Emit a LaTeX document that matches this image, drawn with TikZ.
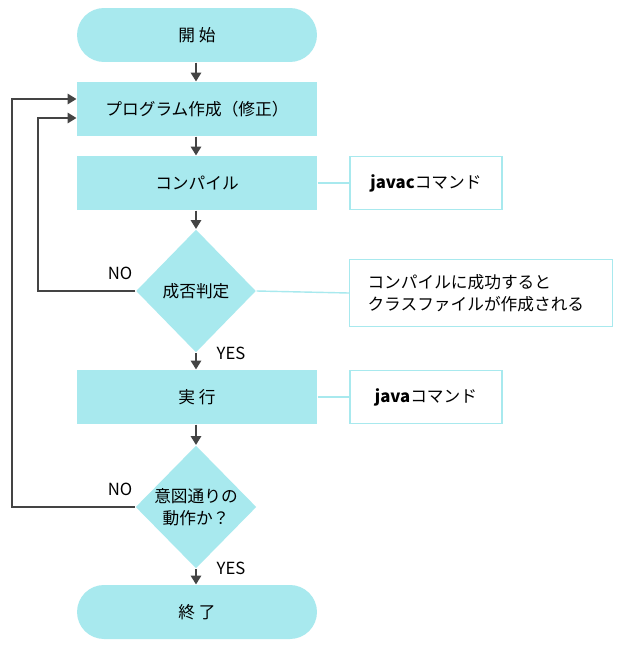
\documentclass[tikz,border=0pt]{standalone}
\usepackage{fontspec}
\setmainfont{Noto Sans CJK JP}
\usetikzlibrary{shapes.geometric,arrows.meta}
\definecolor{boxcyan}{HTML}{A8E9EE}
\definecolor{linegray}{HTML}{444444}
\begin{document}
\begin{tikzpicture}[x=0.02cm,y=-0.02cm,font=\fontsize{9.5}{12.5}\selectfont,
  every path/.style={line width=0.7pt},
  task/.style={fill=boxcyan,draw=none,minimum width=4.8cm,minimum height=1.08cm,inner sep=0pt},
  term/.style={task,rounded corners=0.54cm},
  check/.style={diamond,fill=boxcyan,draw=none,minimum width=2.4cm,minimum height=2.46cm,inner sep=0pt,align=center,aspect=1},
  note/.style={draw=boxcyan,fill=white,line width=0.8pt,inner sep=0pt,align=left},
  flow/.style={draw=linegray,-{Triangle[length=5pt,width=6pt]}},
  link/.style={draw=boxcyan,line width=0.8pt}]
\fill[white] (0,0) rectangle (627,649);
\node[term] (start) at (197,35) {開\ 始};
\node[task] (edit) at (197,109) {プログラム作成（修正）};
\node[task] (comp) at (197,183) {コンパイル};
\node[check] (ok) at (196,291) {成否判定};
\node[task] (run) at (197,397) {実\ 行};
\node[check] (good) at (196,507) {意図通りの\\動作か？};
\node[term] (stop) at (197,612) {終\ 了};
\node[note,minimum width=3.04cm,minimum height=1.06cm] (javac) at (426,183) {\textbf{javac}コマンド};
\node[note,minimum width=5.26cm,minimum height=1.34cm,inner xsep=0.36cm,text width=4.54cm] (msg) at (481,293) {コンパイルに成功すると\\クラスファイルが作成される};
\node[note,minimum width=3.04cm,minimum height=1.06cm] (java) at (426,397) {\textbf{java}コマンド};
% side notes
\draw[link] (comp.east) -- (javac.west);
\draw[link] (ok.east) -- (msg.west);
\draw[link] (run.east) -- (java.west);
% main flow
\draw[flow] (start.south -| ok) -- (edit.north -| ok);
\draw[flow] (edit.south -| ok) -- (comp.north -| ok);
\draw[flow] (comp.south -| ok) -- (ok);
\draw[flow] (ok) -- (run.north -| ok);
\draw[flow] (run.south -| ok) -- (good);
\draw[flow] (good) -- (stop.north -| ok);
% loops back
\coordinate (back1) at (38,118);
\coordinate (back2) at (12,99);
\draw[flow] (ok.west) -| (back1) -- (edit.west |- back1);
\draw[flow] (good.west) -| (back2) -- (edit.west |- back2);
\node (no1) at (120,273) {NO};
\node (no2) at (120,489) {NO};
\node (yes1) at (231,353) {YES};
\node (yes2) at (231,568) {YES};
\end{tikzpicture}
\end{document}
